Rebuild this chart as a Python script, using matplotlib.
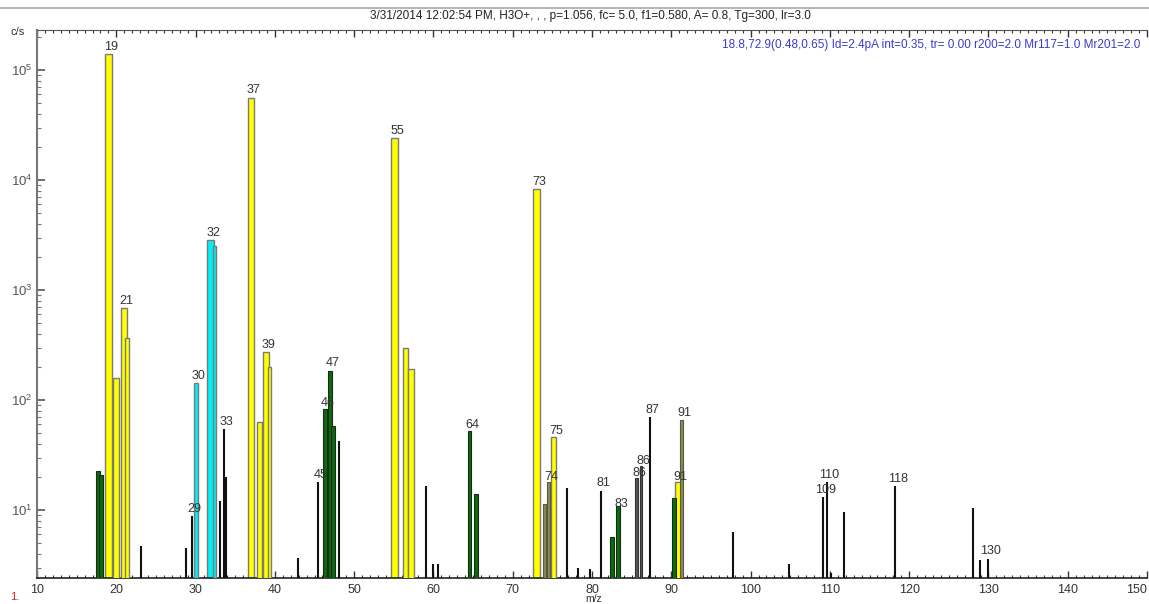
import matplotlib
matplotlib.use("Agg")
import matplotlib.pyplot as plt
from matplotlib.lines import Line2D
from matplotlib.ticker import MultipleLocator, LogLocator, NullFormatter, FixedLocator

plt.rcParams['font.family'] = ['Liberation Sans Narrow', 'Liberation Sans', 'DejaVu Sans']

# ---------------- data (m/z, counts per second) ----------------
yellow_wide_mz = [19.0, 37.0, 55.05, 73.0]
yellow_wide_cps = [1.4e5, 5.6e4, 2.4e4, 8300]

yellow_mz = [19.95, 20.97, 38.06, 38.88, 56.5, 57.2, 75.15, 90.85]
yellow_cps = [158, 686, 62, 273, 297, 190, 45, 17]

yellow_thin_mz = [21.35, 39.32]
yellow_thin_cps = [366, 200]

cyan_wide_mz = [31.9]
cyan_wide_cps = [2850]
cyan_thin_mz = [30.05, 32.4]
cyan_thin_cps = [143, 2500]

green_mz = [17.7, 18.1, 46.3, 46.95, 47.35, 64.55, 65.4, 82.5, 83.3, 90.35]
green_cps = [21.7, 19.8, 81, 184, 57, 51, 13, 4.7, 9.8, 11.8]

olive_mz = [74.06, 74.56, 91.3]
olive_cps = [10.4, 17, 65]

gray_mz = [85.66, 86.17]
gray_cps = [18.4, 24]

black_mz = [23.1, 28.8, 29.5, 33.08, 33.58, 33.83, 42.9, 45.4, 48.1, 59.05, 59.9,
            60.6, 76.8, 78.2, 79.7, 81.1, 87.3, 97.8, 104.8, 109.1, 109.6, 110.1,
            111.8, 118.2, 128.0, 128.9, 129.9]
black_cps = [4.7, 4.5, 8.8, 12, 54, 20, 3.7, 18, 42, 16.6, 3.2,
             3.2, 15.9, 3.0, 2.9, 15, 70, 6.3, 3.2, 13, 18, 2.7,
             9.5, 16.5, 10.4, 3.5, 3.6]

# peak labels: (text, m/z of labelled bar, cps of labelled bar)
label_text = ["19", "21", "29", "30", "32", "33", "37", "39", "45", "46", "47", "55",
              "64", "73", "74", "75", "81", "83", "86", "86", "87", "91", "91",
              "109", "110", "118", "130"]
label_mz = [19.0, 20.97, 29.5, 30.05, 31.9, 33.58, 37.0, 38.88, 45.4, 46.3, 46.95, 55.05,
            64.55, 73.0, 74.56, 75.15, 81.1, 83.3, 85.66, 86.17, 87.3, 91.3, 90.85,
            109.1, 109.6, 118.2, 129.9]
label_cps = [1.4e5, 686, 8.8, 143, 2850, 54, 5.6e4, 273, 18, 81, 184, 2.4e4,
             51, 8300, 17, 45, 15, 9.8, 18.4, 24, 70, 65, 17,
             13, 18, 16.5, 3.6]

x_ticks = list(range(10, 151, 10))
y_min, y_max = 2.41, 2.31e5

title_text = "3/31/2014 12:02:54 PM, H3O+, , , p=1.056, fc= 5.0, f1=0.580, A= 0.8, Tg=300, lr=3.0"
info_text = "18.8,72.9(0.48,0.65) Id=2.4pA int=0.35, tr= 0.00 r200=2.0 Mr117=1.0 Mr201=2.0"

# ---------------- figure ----------------
W, H = 1149, 604
fig = plt.figure(figsize=(W / 100, H / 100), dpi=100)
ax = fig.add_axes([37 / W, 1 - 578 / H, (1147 - 37) / W, (578 - 30) / H])
ax.set_yscale('log')
ax.set_xlim(10, 150)
ax.set_ylim(y_min, y_max)

YEL = '#ffff00'
CYA = '#00f0f8'
GRN = '#0b6b0b'
OLV = '#8a8a58'
GRY = '#555555'
EDGE = '#7a7a7a'

ax.bar(yellow_wide_mz, yellow_wide_cps, width=0.85, bottom=1, color=YEL, edgecolor=EDGE, linewidth=1.0, zorder=2)
ax.bar(cyan_wide_mz, cyan_wide_cps, width=0.85, bottom=1, color=CYA, edgecolor=EDGE, linewidth=1.0, zorder=2)
ax.bar(yellow_mz, yellow_cps, width=0.7, bottom=1, color=YEL, edgecolor=EDGE, linewidth=1.0, zorder=3)
ax.bar(yellow_thin_mz, yellow_thin_cps, width=0.45, bottom=1, color=YEL, edgecolor=EDGE, linewidth=1.0, zorder=3)
ax.bar(cyan_thin_mz, cyan_thin_cps, width=0.45, bottom=1, color=CYA, edgecolor=EDGE, linewidth=1.0, zorder=3)
ax.bar(green_mz, green_cps, width=0.45, bottom=1, color=GRN, edgecolor='#1a2a1a', linewidth=0.8, zorder=3)
ax.bar(olive_mz, olive_cps, width=0.4, bottom=1, color=OLV, edgecolor='#5a5a40', linewidth=0.8, zorder=3)
ax.bar(gray_mz, gray_cps, width=0.35, bottom=1, color=GRY, edgecolor='#333333', linewidth=0.8, zorder=3)
ax.vlines(black_mz, 1, black_cps, color='#111111', linewidth=1.5, zorder=3)

for t, m, c in zip(label_text, label_mz, label_cps):
    ax.annotate(t, (m, c), xytext=(2, 1), textcoords='offset points',
                ha='center', va='bottom', fontsize=9, color='#333333', zorder=5)

# axes styling
ax.spines['right'].set_visible(False)
ax.spines['left'].set_color('#777777')
ax.spines['left'].set_linewidth(1.5)
ax.spines['top'].set_color('#555555')
ax.spines['bottom'].set_color('#222222')
ax.spines['bottom'].set_linewidth(1.2)

ax.xaxis.set_major_locator(FixedLocator(x_ticks))
ax.xaxis.set_minor_locator(MultipleLocator(1))
ax.tick_params(axis='x', which='both', direction='in', top=True, bottom=True,
               labelsize=9, labelcolor='#333333', color='#333333', pad=4)
ax.tick_params(axis='x', which='major', length=5, width=1)
ax.tick_params(axis='x', which='minor', length=2.5, width=0.8)

ax.yaxis.set_major_locator(LogLocator(base=10, numticks=10))
ax.yaxis.set_minor_locator(LogLocator(base=10, subs=range(2, 10), numticks=20))
ax.yaxis.set_minor_formatter(NullFormatter())
ax.tick_params(axis='y', which='major', direction='in', length=6, width=1.2,
               labelsize=9.5, labelcolor='#555555', color='#555555', pad=3)
ax.tick_params(axis='y', which='minor', direction='in', length=3, width=0.8, color='#777777')

fig.canvas.draw()
xlabels = ax.get_xticklabels()
xlabels[-1].set_horizontalalignment('right')

# figure texts
fig.add_artist(Line2D([0, 1], [1 - 8 / H, 1 - 8 / H], color='#a8a8a8', linewidth=1.2))
fig.text(590 / W, 1 - 16 / H, title_text, ha='center', va='center', fontsize=8.5, color='#222222')
fig.text(1140 / W, 1 - 45 / H, info_text, ha='right', va='center', fontsize=8.5, color='#3a3acc')
fig.text(18 / W, 1 - 32 / H, 'c/s', ha='center', va='center', fontsize=8, color='#333333')
fig.text(15 / W, 1 - 597 / H, '1.', ha='center', va='center', fontsize=8, color='#dd2222')
fig.text(594 / W, 1 - 599.5 / H, 'm/z', ha='center', va='center', fontsize=7.5, color='#333333')

fig.savefig('out.png', dpi=100)
